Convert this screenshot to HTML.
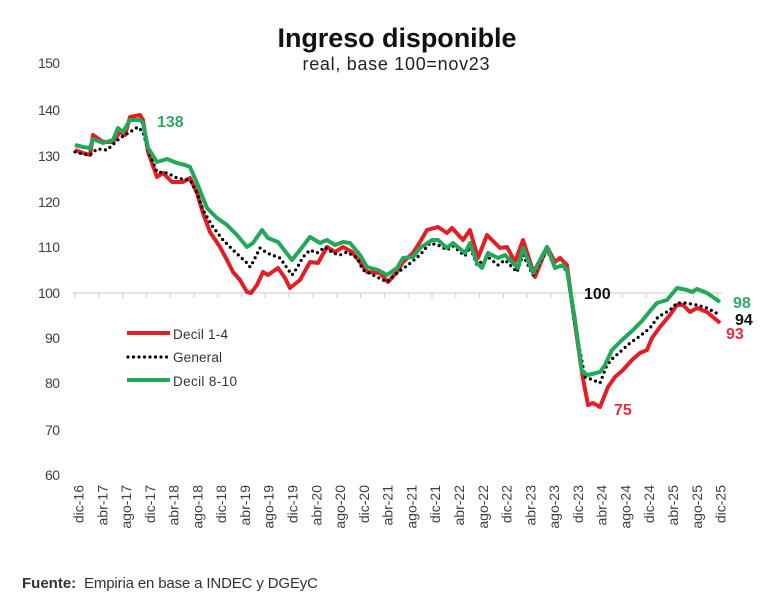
<!DOCTYPE html>
<html><head><meta charset="utf-8"><style>
html,body{margin:0;padding:0;background:#fff;}
svg{display:block;font-family:"Liberation Sans",sans-serif;}
</style></head><body>
<svg width="780" height="616" viewBox="0 0 780 616" xmlns="http://www.w3.org/2000/svg">
<rect width="780" height="616" fill="#fff"/>
<text x="397" y="47" text-anchor="middle" font-size="27" font-weight="bold" fill="#111" textLength="239">Ingreso disponible</text>
<text x="396" y="70" text-anchor="middle" font-size="18" fill="#222" textLength="187">real, base 100=nov23</text>
<g font-size="14" fill="#404040" text-anchor="end">
<text x="60" y="68" textLength="22">150</text><text x="60" y="115" textLength="22">140</text><text x="60" y="161" textLength="22">130</text><text x="60" y="207" textLength="22">120</text><text x="60" y="252" textLength="22">110</text><text x="60" y="298" textLength="22">100</text><text x="60" y="343" textLength="15">90</text><text x="60" y="388" textLength="15">80</text><text x="60" y="435" textLength="15">70</text><text x="60" y="480" textLength="15">60</text>
</g>
<line x1="73" y1="293" x2="722" y2="293" stroke="#d4d4d4" stroke-width="1.2"/>
<g stroke="#d4d4d4" stroke-width="1.2" id="ticks"></g>
<g font-size="14" fill="#404040" text-anchor="end" id="xl"></g>
<polyline fill="none" stroke="#e41e26" stroke-width="4" stroke-linejoin="round" points="75,150 83,153 90,155 93,135 103,142 113,142 120,132 125,135 130,117 140,115 143,120 148,152 157,177 163,173 172,182 183,182 190,178 197,193 203,213 210,232 220,247 227,260 233,272 240,280 247,292 251,293 257,285 263,272 268,275 278,268 285,278 290,288 300,280 310,262 318,263 327,247 335,252 343,247 352,252 360,262 367,272 380,273 388,282 397,272 403,262 413,253 420,242 427,230 438,227 447,233 452,228 463,240 470,230 478,258 487,235 500,248 507,247 515,262 523,240 535,277 547,247 555,262 560,258 567,265 573,310 582,373 588,405 593,403 600,407 608,387 615,377 623,370 632,360 640,353 647,350 652,338 660,327 670,315 677,305 683,305 690,312 697,308 707,312 720,323"/>
<polyline fill="none" stroke="#000" stroke-width="3.2" stroke-linecap="round" stroke-dasharray="0 5.5" points="75,152 83,154 90,155 97,149 107,150 120,138 130,132 138,127 143,132 148,150 157,172 167,173 177,178 190,180 197,193 203,210 213,227 223,240 233,250 247,263 250,267 253,262 260,248 267,253 280,258 292,275 297,268 303,257 310,250 317,253 325,247 333,253 340,255 347,252 357,258 363,270 373,275 387,282 397,273 408,265 420,255 430,243 438,245 447,250 453,246 465,256 470,247 477,265 488,257 498,265 505,260 517,272 523,255 533,275 547,250 555,268 563,266 567,272 575,325 585,377 593,380 600,383 607,365 613,358 620,352 630,343 640,336 650,328 658,317 670,310 677,303 685,303 697,305 707,308 720,315"/>
<polyline fill="none" stroke="#22a85a" stroke-width="4" stroke-linejoin="round" points="75,145 83,147 90,148 93,139 103,143 113,140 118,128 123,132 130,120 140,120 143,123 148,148 157,162 167,159 177,163 185,165 190,167 197,183 207,208 217,218 227,225 237,235 247,247 253,243 262,230 268,238 278,242 292,260 300,250 310,237 320,243 327,240 335,245 343,242 350,243 360,255 367,267 378,270 387,275 397,268 403,258 413,257 420,248 432,240 438,240 447,248 453,243 465,253 470,243 477,263 482,268 488,253 498,258 505,255 518,268 523,248 533,273 547,247 555,268 563,265 567,270 575,320 582,372 588,375 600,372 605,365 612,350 622,340 632,331 642,321 650,311 657,303 667,300 677,288 687,290 692,292 697,289 707,293 720,302"/>
<g font-weight="bold" font-size="16">
<text x="157" y="127" fill="#2ea86a">138</text>
<text x="584" y="299" fill="#111">100</text>
<text x="614" y="415" fill="#e0303f">75</text>
<text x="733" y="308" fill="#2ea86a">98</text>
<text x="735" y="325" fill="#111">94</text>
<text x="726" y="339" fill="#e0303f">93</text>
</g>
<line x1="127" y1="333" x2="170" y2="333" stroke="#e41e26" stroke-width="4"/>
<line x1="128" y1="357" x2="169" y2="357" stroke="#000" stroke-width="3.2" stroke-linecap="round" stroke-dasharray="0 5.5"/>
<line x1="127" y1="380" x2="170" y2="380" stroke="#22a85a" stroke-width="4"/>
<g font-size="13.5" fill="#333">
<text x="173" y="339" textLength="55">Decil 1-4</text>
<text x="173" y="362" textLength="49">General</text>
<text x="173" y="386" textLength="64">Decil 8-10</text>
</g>
<text x="22" y="588" font-size="15" font-weight="bold" fill="#333">Fuente:</text>
<text x="84" y="588" font-size="15" fill="#333" textLength="234">Empiria en base a INDEC y DGEyC</text>
<script>
(function(){
var ns="http://www.w3.org/2000/svg";
var t=document.getElementById("ticks"),xl=document.getElementById("xl");
var m=["dic","abr","ago"];
for(var k=0;k<=27;k++){
 var x=75+23.8*k;
 var l=document.createElementNS(ns,"line");
 l.setAttribute("x1",x);l.setAttribute("x2",x);l.setAttribute("y1",293);l.setAttribute("y2",298);
 t.appendChild(l);
 var yr=16+Math.floor((k+2)/3);
 var tx=document.createElementNS(ns,"text");
 var cx=83.5+23.78*k;
 tx.setAttribute("x",cx);tx.setAttribute("y",485);
 tx.setAttribute("transform","rotate(-90 "+cx+" 485)");
 tx.textContent=m[k%3]+"-"+yr;
 xl.appendChild(tx);
}
})();
</script>
</svg>
</body></html>
